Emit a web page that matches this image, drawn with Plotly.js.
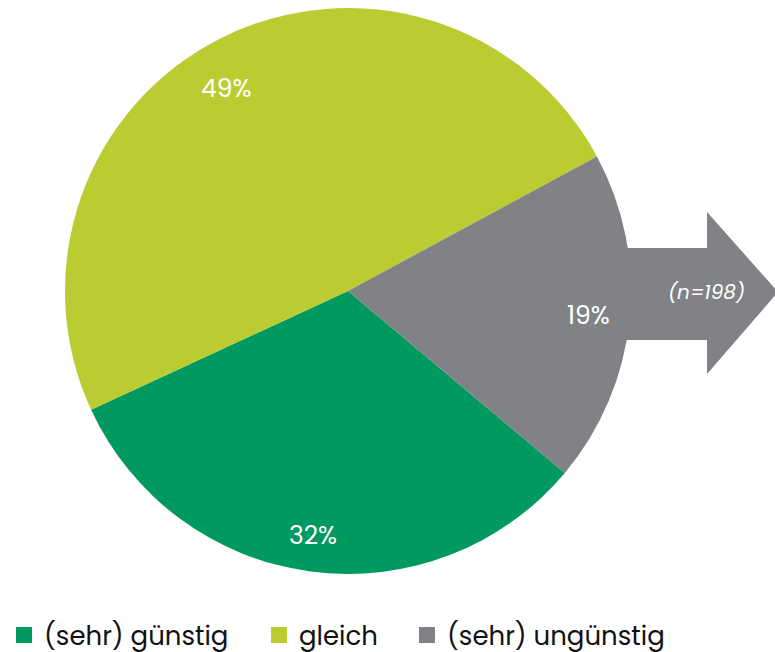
<!DOCTYPE html>
<html>
<head>
<meta charset="utf-8">
<script src="https://cdn.plot.ly/plotly-3.0.1.min.js"></script>
<style>html,body{margin:0;padding:0;background:#fff}#chart{width:775px;height:652px}</style>
</head>
<body>
<div id="chart"></div>
<script>
// Data
var categories = ['(sehr) günstig', 'gleich', '(sehr) ungünstig'];
var shares = [32, 49, 19];
var sampleNote = '(n=198)';

// Style
var colors = ['#00995F', '#BBCC33', '#808285'];
var W = 775, H = 652;
var cx = 348, cy = 291, R = 283;
var startAngle = 130;
var labelRadius = [0.87, 0.83, 0.86];
var labelAngleShift = [0, -4, 0];
var legendKeyCenters = [24, 279, 427];
var font = 'Poppins, Lato, "Open Sans", sans-serif';

var total = shares.reduce(function (a, b) { return a + b; }, 0);
var annotations = [];
var acc = 0;
for (var i = 0; i < shares.length; i++) {
  var mid = startAngle + (acc + shares[i] / 2) / total * 360 + labelAngleShift[i];
  acc += shares[i];
  var rad = mid * Math.PI / 180;
  var px = cx + R * labelRadius[i] * Math.sin(rad) - 2;
  var py = cy - R * labelRadius[i] * Math.cos(rad);
  annotations.push({
    xref: 'paper', yref: 'paper', x: px / W, y: 1 - py / H,
    text: Math.round(shares[i] / total * 100) + '%', showarrow: false,
    font: {family: font, size: 25, color: '#ffffff'}, xanchor: 'center', yanchor: 'middle'
  });
}
annotations.push({
  xref: 'paper', yref: 'paper', x: 706 / W, y: 1 - 292 / H,
  text: '<i>' + sampleNote + '</i>', showarrow: false,
  font: {family: font, size: 20, color: '#ffffff'}, xanchor: 'center', yanchor: 'middle'
});

function P(x, y) { return (x / W).toFixed(4) + ',' + (1 - y / H).toFixed(4); }
var arrowPath = 'M' + P(600, 248) + ' L' + P(707, 248) + ' L' + P(707, 212) + ' L' + P(778, 292) +
  ' L' + P(707, 374) + ' L' + P(707, 340) + ' L' + P(600, 340) + ' Z';

var data = [{
  type: 'pie',
  labels: categories,
  values: shares,
  sort: false,
  direction: 'clockwise',
  rotation: startAngle,
  marker: {colors: colors, line: {width: 0}},
  textinfo: 'none',
  showlegend: false,
  hoverinfo: 'label+percent',
  domain: {x: [(cx - R) / W, (cx + R) / W], y: [1 - (cy + R) / H, 1 - (cy - R) / H]}
}];

var layout = {
  width: W, height: H,
  margin: {l: 0, r: 0, t: 0, b: 0, autoexpand: false},
  paper_bgcolor: '#ffffff',
  plot_bgcolor: 'rgba(0,0,0,0)',
  xaxis: {visible: false, range: [0, 1]},
  yaxis: {visible: false, range: [0, 1]},
  showlegend: true,
  shapes: [{type: 'path', xref: 'paper', yref: 'paper', path: arrowPath,
    fillcolor: '#808285', line: {width: 0}, layer: 'below'}],
  annotations: annotations
};

// legend entries (square keys) built from the same categories/colours, one legend box each
for (var j = 0; j < categories.length; j++) {
  var lid = j === 0 ? 'legend' : 'legend' + (j + 1);
  data.push({
    type: 'scatter', mode: 'markers', x: [null], y: [null], name: categories[j],
    marker: {symbol: 'square', size: 18, color: colors[j]}, showlegend: true,
    hoverinfo: 'skip', legend: lid
  });
  layout[lid] = {
    orientation: 'h', x: (legendKeyCenters[j] - 20) / W, xanchor: 'left',
    y: 1 - 635 / H, yanchor: 'middle', bgcolor: 'rgba(0,0,0,0)',
    font: {family: font, size: 26, color: '#111111'}, itemsizing: 'trace'
  };
}

Plotly.newPlot('chart', data, layout, {displayModeBar: false, staticPlot: true});
</script>
</body>
</html>
